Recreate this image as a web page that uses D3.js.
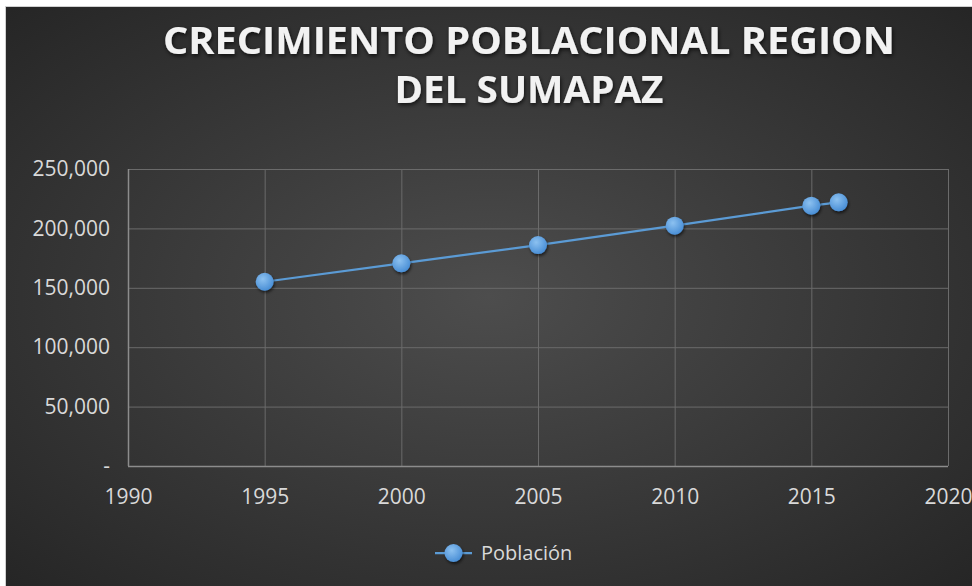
<!DOCTYPE html>
<html>
<head>
<meta charset="utf-8">
<script src="https://cdn.jsdelivr.net/npm/d3@7"></script>
<style>
    body { margin: 0; background: #fff; }
    svg { display: block; font-family: 'Open Sans', sans-serif; }
</style>
</head>
<body>
<div id="chart"></div>
<script>
const titleLines = ['CRECIMIENTO POBLACIONAL REGION', 'DEL SUMAPAZ'];
const seriesName = 'Población';
const years = [1995, 2000, 2005, 2010, 2015, 2016];
const population = [155100, 170600, 186000, 202300, 219100, 222000];
const xTicks = [1990, 1995, 2000, 2005, 2010, 2015, 2020];
const yTicks = [0, 50000, 100000, 150000, 200000, 250000];

const svgWidth = 972;
const svgHeight = 586;

const svg = d3.select('#chart')
    .append('svg')
    .attr('width', svgWidth)
    .attr('height', svgHeight);

const defs = svg.append('defs');

const bg = defs.append('radialGradient')
    .attr('id', 'bg')
    .attr('cx', '50%').attr('cy', '50%').attr('r', '70%');
bg.append('stop').attr('offset', '0%').attr('stop-color', '#4d4d4d');
bg.append('stop').attr('offset', '100%').attr('stop-color', '#262626');

const dot = defs.append('radialGradient')
    .attr('id', 'dot')
    .attr('cx', '40%').attr('cy', '35%').attr('r', '65%');
dot.append('stop').attr('offset', '0%').attr('stop-color', '#8cc1f0');
dot.append('stop').attr('offset', '100%').attr('stop-color', '#4a8fd6');

const shadow = defs.append('filter').attr('id', 'shadow')
    .attr('x', '-50%').attr('y', '-50%').attr('width', '200%').attr('height', '200%');
shadow.append('feDropShadow')
    .attr('dx', 1).attr('dy', 2).attr('stdDeviation', 1.5)
    .attr('flood-color', '#000').attr('flood-opacity', 0.6);

const titleShadow = defs.append('filter').attr('id', 'tshadow')
    .attr('x', '-10%').attr('y', '-30%').attr('width', '120%').attr('height', '160%');
titleShadow.append('feDropShadow')
    .attr('dx', 1).attr('dy', 2).attr('stdDeviation', 2)
    .attr('flood-color', '#000').attr('flood-opacity', 0.7);

// chart area background
svg.append('rect')
    .attr('x', 5.5).attr('y', 6.5)
    .attr('width', svgWidth - 5).attr('height', svgHeight - 6)
    .attr('fill', 'url(#bg)')
    .attr('stroke', '#d0d0d0')
    .attr('stroke-width', 1);

const margins = {t: 169, r: 24, b: 120, l: 128};
const graphWidth = svgWidth - margins.l - margins.r;
const graphHeight = svgHeight - margins.t - margins.b;
const g = svg.append('g').attr('transform', `translate(${margins.l},${margins.t})`);

const x = d3.scaleLinear().domain([1990, 2020]).range([0, graphWidth]);
const y = d3.scaleLinear().domain([0, 250000]).range([graphHeight, 0]);

// gridlines
g.selectAll('line.hgrid')
    .data(yTicks)
    .join('line')
    .attr('class', 'hgrid')
    .attr('x1', 0).attr('x2', graphWidth)
    .attr('y1', d => y(d) + 0.5).attr('y2', d => y(d) + 0.5)
    .attr('stroke', '#6b6b6b')
    .attr('stroke-width', 1);

g.selectAll('line.vgrid')
    .data(xTicks)
    .join('line')
    .attr('class', 'vgrid')
    .attr('x1', d => x(d) + 0.5).attr('x2', d => x(d) + 0.5)
    .attr('y1', 0).attr('y2', graphHeight)
    .attr('stroke', '#6b6b6b')
    .attr('stroke-width', 1);

// axis lines
g.append('line')
    .attr('x1', 0).attr('x2', graphWidth)
    .attr('y1', graphHeight + 0.5).attr('y2', graphHeight + 0.5)
    .attr('stroke', '#8c8c8c').attr('stroke-width', 1.5);
g.append('line')
    .attr('x1', 0.5).attr('x2', 0.5)
    .attr('y1', 0).attr('y2', graphHeight)
    .attr('stroke', '#8c8c8c').attr('stroke-width', 1.5);

// axes
const yAxis = g.append('g')
    .call(d3.axisLeft(y).tickValues(yTicks).tickSize(0).tickPadding(18)
        .tickFormat(d => d === 0 ? '-' : d3.format(',')(d)));
yAxis.select('.domain').remove();
yAxis.attr('font-family', null);
yAxis.selectAll('text')
    .style('font-size', '21px')
    .attr('fill', '#d9d9d9');

const xAxis = g.append('g')
    .attr('transform', `translate(0,${graphHeight})`)
    .call(d3.axisBottom(x).tickValues(xTicks).tickSize(0).tickPadding(23)
        .tickFormat(d3.format('d')));
xAxis.select('.domain').remove();
xAxis.attr('font-family', null);
xAxis.selectAll('text')
    .style('font-size', '21px')
    .attr('fill', '#d9d9d9');

// series
const rows = years.map((yr, i) => ({year: yr, value: population[i]}));

g.append('path')
    .datum(rows)
    .attr('fill', 'none')
    .attr('stroke', '#5b9bd5')
    .attr('stroke-width', 2.25)
    .attr('d', d3.line().x(d => x(d.year)).y(d => y(d.value)));

g.selectAll('circle.pt')
    .data(rows)
    .join('circle')
    .attr('class', 'pt')
    .attr('cx', d => x(d.year))
    .attr('cy', d => y(d.value))
    .attr('r', 9)
    .attr('fill', 'url(#dot)')
    .attr('filter', 'url(#shadow)');

// title
const titleWidths = [732, 269];
svg.selectAll('text.title')
    .data(titleLines)
    .join('text')
    .attr('class', 'title')
    .attr('x', 529)
    .attr('y', (d, i) => 54 + i * 49)
    .attr('text-anchor', 'middle')
    .attr('fill', '#f2f2f2')
    .attr('filter', 'url(#tshadow)')
    .attr('textLength', (d, i) => titleWidths[i])
    .attr('lengthAdjust', 'spacingAndGlyphs')
    .style('font-size', '37px')
    .style('font-weight', 'bold')
    .text(d => d);

// legend
const legend = svg.append('g').attr('transform', 'translate(435,553)');
legend.append('line')
    .attr('x1', 0).attr('x2', 37)
    .attr('stroke', '#5b9bd5').attr('stroke-width', 2.25);
legend.append('circle')
    .attr('cx', 18.5).attr('r', 9)
    .attr('fill', 'url(#dot)')
    .attr('filter', 'url(#shadow)');
legend.append('text')
    .attr('x', 46).attr('dy', '0.35em')
    .attr('fill', '#d9d9d9')
    .style('font-size', '20px')
    .text(seriesName);
</script>
</body>
</html>
